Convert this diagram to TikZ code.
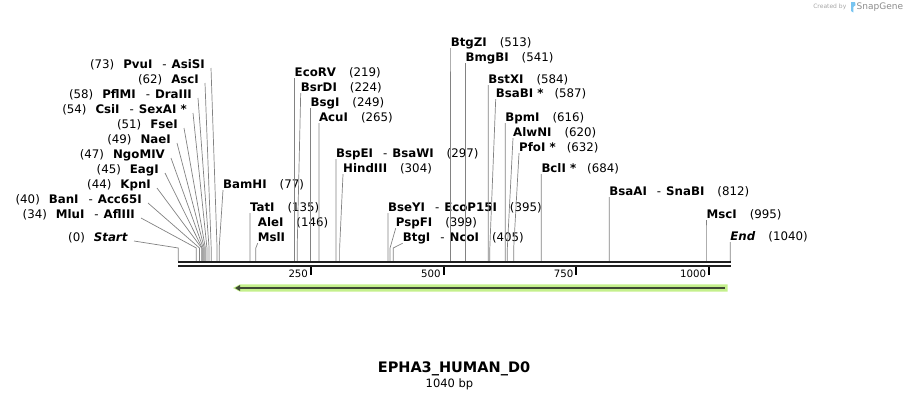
\documentclass[tikz,border=0pt]{standalone}
\usepackage{fontspec}
\setmainfont{DejaVu Sans}
\usetikzlibrary{arrows.meta}
\definecolor{featgreen}{RGB}{196,240,140}
\definecolor{featdark}{RGB}{62,72,52}
\definecolor{sitegray}{RGB}{130,130,130}
\definecolor{snapblue}{RGB}{120,196,240}
\begin{document}
\begin{tikzpicture}[x=1pt,y=-1pt]
            \tikzset{
            map label/.style={inner xsep=0pt,inner ysep=1.5pt,text height=8.5pt,text depth=0.5pt,font=\fontsize{11.8}{13}\selectfont},
            map left/.style={map label,anchor=east},
            map right/.style={map label,anchor=west},
            map line/.style={draw=sitegray,line width=0.7pt},
            map seq/.style={draw=black!88,line width=2pt},
            map tick/.style={draw=black,line width=1.8pt},
            map ticklabel/.style={anchor=east,inner sep=0pt,font=\fontsize{10.2}{12}\selectfont}
            }
            \useasboundingbox (0,0) rectangle (910,400);

            % cut sites on the sequence
            \foreach \p in {0,34,40,44,45,47,49,51,54,58,62,73,77,135,146,219,224,249,265,297,304,395,399,405,513,541,584,587,616,620,632,684,812,995,1040}{
              \coordinate (s\p) at ({178.3+0.5307*\p},261);
              \coordinate (b\p) at ({178.3+0.5307*\p},248);
            }

            % enzymes left of the fan
            \node[map left] (PvuI) at (205,64) {(73)\hspace{9pt}\textbf{PvuI}\hspace{10pt}-\hspace{5pt}\textbf{AsiSI}};
            \node[map left] (AscI) at (199,79) {(62)\hspace{9pt}\textbf{AscI}};
            \node[map left] (PflMI) at (192,94) {(58)\hspace{9pt}\textbf{PflMI}\hspace{10pt}-\hspace{5pt}\textbf{DraIII}};
            \node[map left] (CsiI) at (187,109) {(54)\hspace{9pt}\textbf{CsiI}\hspace{10pt}-\hspace{5pt}\textbf{SexAI *}};
            \node[map left] (FseI) at (178,124) {(51)\hspace{9pt}\textbf{FseI}};
            \node[map left] (NaeI) at (171,139) {(49)\hspace{9pt}\textbf{NaeI}};
            \node[map left] (NgoMIV) at (165,154) {(47)\hspace{9pt}\textbf{NgoMIV}};
            \node[map left] (EagI) at (159,169) {(45)\hspace{9pt}\textbf{EagI}};
            \node[map left] (KpnI) at (151,184) {(44)\hspace{9pt}\textbf{KpnI}};
            \node[map left] (BanI) at (142,199) {(40)\hspace{9pt}\textbf{BanI}\hspace{10pt}-\hspace{5pt}\textbf{Acc65I}};
            \node[map left] (MluI) at (135,214) {(34)\hspace{9pt}\textbf{MluI}\hspace{10pt}-\hspace{5pt}\textbf{AflIII}};
            \node[map left] (Start) at (128,237) {(0)\hspace{9pt}\textbf{\textit{Start}}};

            % enzymes right of their line
            \node[map right] (BamHI) at (223,184) {\textbf{BamHI}\hspace{13pt}(77)};
            \node[map right] (TatI) at (249.9,207) {\textbf{TatI}\hspace{13pt}(135)};
            \node[map right] (AleI) at (257.7,222) {\textbf{AleI}\hspace{13pt}(146)};
            \node[map right] (MslI) at (257.7,237) {\textbf{MslI}};
            \node[map right] (EcoRV) at (294.5,72) {\textbf{EcoRV}\hspace{13pt}(219)};
            \node[map right] (BsrDI) at (300.7,87) {\textbf{BsrDI}\hspace{13pt}(224)};
            \node[map right] (BsgI) at (310.4,102) {\textbf{BsgI}\hspace{13pt}(249)};
            \node[map right] (AcuI) at (318.9,117) {\textbf{AcuI}\hspace{13pt}(265)};
            \node[map right] (BspEI) at (335.9,153) {\textbf{BspEI}\hspace{10pt}-\hspace{5pt}\textbf{BsaWI}\hspace{13pt}(297)};
            \node[map right] (HindIII) at (343,168) {\textbf{HindIII}\hspace{13pt}(304)};
            \node[map right] (BseYI) at (387.9,207) {\textbf{BseYI}\hspace{10pt}-\hspace{5pt}\textbf{EcoP15I}\hspace{13pt}(395)};
            \node[map right] (PspFI) at (395.7,222) {\textbf{PspFI}\hspace{13pt}(399)};
            \node[map right] (BtgI) at (402.7,237) {\textbf{BtgI}\hspace{10pt}-\hspace{5pt}\textbf{NcoI}\hspace{13pt}(405)};
            \node[map right] (BtgZI) at (450.6,42) {\textbf{BtgZI}\hspace{13pt}(513)};
            \node[map right] (BmgBI) at (465.4,57) {\textbf{BmgBI}\hspace{13pt}(541)};
            \node[map right] (BstXI) at (488.2,79) {\textbf{BstXI}\hspace{13pt}(584)};
            \node[map right] (BsaBI) at (495.7,93) {\textbf{BsaBI *}\hspace{11pt}(587)};
            \node[map right] (BpmI) at (505.2,117) {\textbf{BpmI}\hspace{13pt}(616)};
            \node[map right] (AlwNI) at (513,132) {\textbf{AlwNI}\hspace{13pt}(620)};
            \node[map right] (PfoI) at (519,147) {\textbf{PfoI *}\hspace{11pt}(632)};
            \node[map right] (BclI) at (541.3,168) {\textbf{BclI *}\hspace{11pt}(684)};
            \node[map right] (BsaAI) at (609.2,191) {\textbf{BsaAI}\hspace{10pt}-\hspace{5pt}\textbf{SnaBI}\hspace{13pt}(812)};
            \node[map right] (MscI) at (706.4,214) {\textbf{MscI}\hspace{13pt}(995)};
            \node[map right] (End) at (730.2,236) {\textbf{\textit{End}}\hspace{13pt}(1040)};

            \foreach \n/\p in {PvuI/73,AscI/62,PflMI/58,CsiI/54,FseI/51,NaeI/49,NgoMIV/47,EagI/45,KpnI/44,BanI/40,MluI/34,Start/0}
              \draw[map line] ([xshift=6pt,yshift=-4pt]\n.east) -- (b\p) -- (s\p);
            \foreach \n/\p in {BamHI/77,TatI/135,MslI/146,EcoRV/219,BsrDI/224,BsgI/249,AcuI/265,BspEI/297,HindIII/304,BseYI/395,PspFI/399,BtgI/405,BtgZI/513,BmgBI/541,BstXI/584,BsaBI/587,BpmI/616,AlwNI/620,PfoI/632,BclI/684,BsaAI/812,MscI/995,End/1040}
              \draw[map line] (\n.south west) -- (b\p) -- (s\p);

            % sequence and ruler
            \coordinate (seqL) at (178,262.3);
            \coordinate (seqR) at (731,262.3);
            \draw[map seq] (seqL) -- (seqR);
            \draw[map seq] ([yshift=-3.7pt]seqL) -- ([yshift=-3.7pt]seqR);
            \foreach \t in {250,500,750,1000}{
              \draw[map tick] ({178.3+0.5307*\t},267) -- ({178.3+0.5307*\t},275);
              \node[map ticklabel] (t\t) at ({175.5+0.5307*\t},274) {\t};
            }

            % feature arrow
            \fill[featgreen] (233,288) -- (240,284.3) -- (727.7,284.3) -- (727.7,291.7) -- (240,291.7) -- cycle;
            \draw[featdark,line width=2pt,-{Triangle[length=5pt,width=5.5pt]}] (724.5,288) -- (235,288);

            \node[font=\fontsize{14.5}{16}\selectfont\bfseries] (title) at (454,369) {EPHA3\_HUMAN\_D0};
            \node[font=\fontsize{11.5}{13}\selectfont] (size) at (449.5,384) {1040 bp};

            \node[anchor=east,inner sep=0pt,text=black!35,font=\fontsize{6}{7}\selectfont] (credit) at (846.5,7) {Created by};
            \fill[snapblue] (851,2) -- (855,2) .. controls (856.5,4) and (855.5,6.5) .. (853.3,7) -- (853.3,12.5) -- (851,11) -- cycle;
            \node[anchor=west,inner sep=0pt,text=black!45,font=\fontsize{9}{10}\selectfont] (brand) at (856.5,7) {SnapGene};
        \end{tikzpicture}
\end{document}
